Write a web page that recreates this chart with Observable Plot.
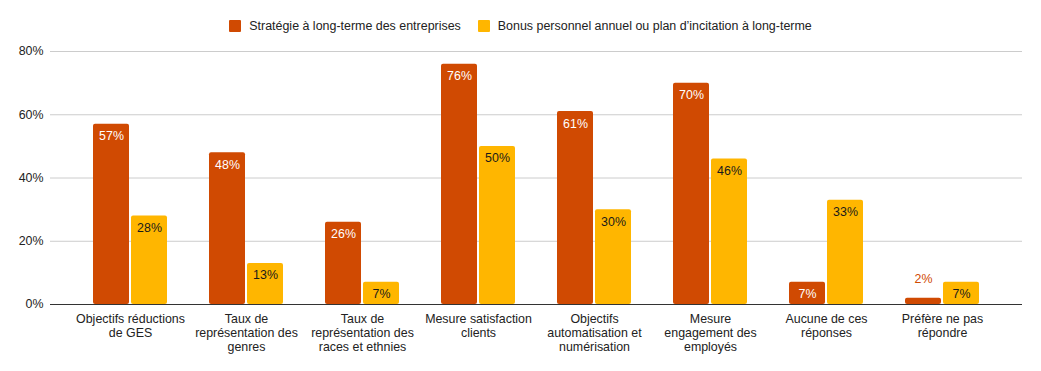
<!DOCTYPE html>
<html>
<head>
<meta charset="utf-8">
<script src="https://cdn.jsdelivr.net/npm/d3@7"></script>
<script src="https://cdn.jsdelivr.net/npm/@observablehq/plot@0.6"></script>
<style>
  body { margin: 0; background: #fff; font-family: "Liberation Sans", Arial, sans-serif; }
  #legend { height: 40px; box-sizing: border-box; padding-top: 11px; display: flex; justify-content: center; align-items: center; font-size: 12.45px; color: #222; }
  #legend .item { display: flex; align-items: center; height: 29px; }
  #legend .sw { width: 12px; height: 12px; margin-right: 8px; border-radius: 1px; }
  #legend .item + .item { margin-left: 17px; }
</style>
</head>
<body>
<div id="legend"></div>
<div id="chart"></div>
<script>
const categories = [
  "Objectifs réductions de GES",
  "Taux de représentation des genres",
  "Taux de représentation des races et ethnies",
  "Mesure satisfaction clients",
  "Objectifs automatisation et numérisation",
  "Mesure engagement des employés",
  "Aucune de ces réponses",
  "Préfère ne pas répondre"
];
const tickLabels = [
  "Objectifs réductions\nde GES",
  "Taux de\nreprésentation des\ngenres",
  "Taux de\nreprésentation des\nraces et ethnies",
  "Mesure satisfaction\nclients",
  "Objectifs\nautomatisation et\nnumérisation",
  "Mesure\nengagement des\nemployés",
  "Aucune de ces\nréponses",
  "Préfère ne pas\nrépondre"
];
const seriesNames = [
  "Stratégie à long-terme des entreprises",
  "Bonus personnel annuel ou plan d’incitation à long-terme"
];
const seriesColors = ["#d04a02", "#ffb600"];
const strategie = [57, 48, 26, 76, 61, 70, 7, 2];
const bonus = [28, 13, 7, 50, 30, 46, 33, 7];
const yTicks = [0, 20, 40, 60, 80];

const dataA = categories.map((c, i) => ({category: c, value: strategie[i]}));
const dataB = categories.map((c, i) => ({category: c, value: bonus[i]}));

// legend
const legend = document.getElementById("legend");
seriesNames.forEach((name, i) => {
  const item = document.createElement("div");
  item.className = "item";
  const sw = document.createElement("span");
  sw.className = "sw";
  sw.style.background = seriesColors[i];
  const label = document.createElement("span");
  label.textContent = name;
  item.appendChild(sw);
  item.appendChild(label);
  legend.appendChild(item);
});

const tickMap = new Map(categories.map((c, i) => [c, tickLabels[i]]));
const fmt = d => d + "%";
const fs = 12.4;

const chart = Plot.plot({
  width: 1041,
  height: 331,
  marginTop: 11,
  marginBottom: 67,
  marginLeft: 50,
  marginRight: 19,
  style: {fontFamily: "Liberation Sans, Arial, sans-serif", fontSize: fs + "px", color: "#222", background: "#fff"},
  x: {type: "band", domain: categories, paddingInner: 0.365, paddingOuter: 0.35, label: null},
  y: {domain: [0, 80], label: null},
  marks: [
    Plot.ruleY(yTicks.filter(t => t > 0), {stroke: "#cccccc", strokeWidth: 1}),
    Plot.barY(dataA, {x: "category", y: "value", fill: seriesColors[0], insetLeft: 0, insetRight: 38, rx: 2}),
    Plot.barY(dataB, {x: "category", y: "value", fill: seriesColors[1], insetLeft: 38, insetRight: 0, rx: 2}),
    Plot.ruleY([0], {stroke: "#333333", strokeWidth: 1}),
    Plot.text(dataA.filter(d => d.value >= 4), {x: "category", y: "value", text: d => fmt(d.value), dx: -19, dy: 12, fill: "#ffffff", fontSize: fs}),
    Plot.text(dataA.filter(d => d.value < 4), {x: "category", y: "value", text: d => fmt(d.value), dx: -19, dy: -19, fill: seriesColors[0], fontSize: fs}),
    Plot.text(dataB, {x: "category", y: "value", text: d => fmt(d.value), dx: 19, dy: 12, fill: "#1a1a1a", fontSize: fs}),
    Plot.axisY({ticks: yTicks, tickFormat: fmt, tickSize: 0, tickPadding: 7, fontSize: fs, fill: "#222", label: null}),
    Plot.axisX({tickFormat: d => tickMap.get(d), tickSize: 0, tickPadding: 9, lineHeight: 1.13, fontSize: fs, fill: "#222", label: null})
  ]
});
document.getElementById("chart").appendChild(chart);
</script>
</body>
</html>
